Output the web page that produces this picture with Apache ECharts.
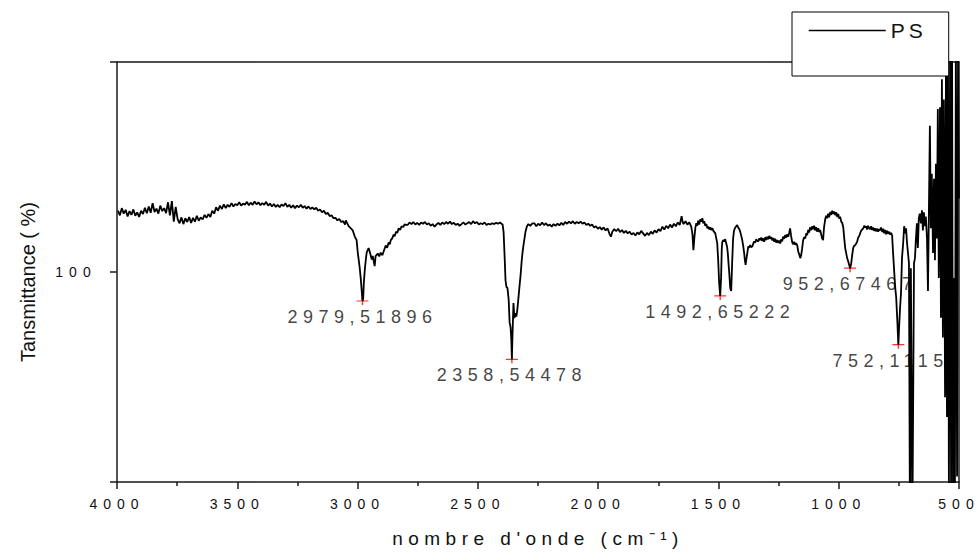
<!DOCTYPE html>
<html>
<head>
<meta charset="utf-8">
<script src="https://cdn.jsdelivr.net/npm/echarts@6/dist/echarts.min.js"></script>
<style>
  html, body { margin: 0; padding: 0; background: #fff; }
  #chart { width: 979px; height: 553px; }
</style>
</head>
<body>
<div id="chart"></div>
<script>
// FTIR spectrum of polystyrene (PS): [wavenumber cm-1, transmittance %]
const highWaveBaseline = [
  [3996,114.6],[3988,113.5],[3980,115.2],[3972,113.9],[3964,114.8],[3956,113.2],[3948,114.5],[3940,113.6],
  [3932,114.9],[3924,113.4],[3916,114.2],[3908,113.1],[3900,114.6],[3892,113.8],[3884,115.3],[3876,114.0],
  [3868,115.6],[3860,114.1],[3852,116.4],[3844,114.3],[3836,115.1],[3828,113.9],[3820,115.8],[3812,114.5],
  [3804,115.2],[3796,114.0],[3788,116.6],[3780,113.5],[3772,116.9],[3764,112.0],[3756,115.5],[3748,112.6],
  [3740,111.6],[3732,113.0],[3724,111.4],[3716,112.8],[3708,111.9],[3700,113.1],[3692,111.7],[3684,112.9],
  [3676,112.0],[3668,113.4],[3660,112.2],[3652,113.0],[3644,112.5],[3636,113.6],[3628,112.9],[3620,113.8],
  [3612,113.1],[3604,114.6],[3596,113.9],[3588,115.4],[3580,114.6],[3572,115.8],[3564,115.0],[3556,116.1],
  [3548,115.2],[3540,116.0],[3532,115.5],[3524,116.4],[3516,115.6],[3508,116.2],[3500,115.9],[3492,116.6],
  [3484,115.8],[3476,116.3],[3468,116.0],[3460,116.7],[3452,115.9],[3444,116.5],[3436,116.0],[3428,116.8],
  [3420,116.1],[3412,116.6],[3404,115.9],[3396,116.4],[3388,116.0],[3380,116.7],[3372,115.8],[3364,116.3],
  [3356,115.6],[3348,116.2],[3340,115.5],[3332,116.0],[3324,115.4],[3316,116.1],[3308,115.7],[3300,116.4],
  [3292,115.5],[3284,116.0],[3276,115.3],[3268,115.9],[3260,115.2],[3252,115.8],[3244,115.4],[3236,116.0],
  [3228,115.3],[3220,115.7],[3212,115.1],[3204,115.6],[3196,115.0],[3188,115.4],[3180,114.9],[3172,115.3],
  [3164,114.6],[3156,114.9],[3148,114.2],[3140,114.6],[3132,113.8],[3124,114.1],[3116,113.3],[3108,113.5],
  [3100,112.8],[3092,112.9],[3084,112.3],[3076,112.6],[3068,111.9],[3060,112.1],[3052,111.3]
];

const chStretchBand = [
  [3049,112.3],[3037,110.9],[3028,110.4],[3020,109.9],[3012,108.5],[3004,107.6],[2999,104.5],[2995,102.8],
  [2991,100.9],[2987,98.6],[2983,95.7],[2979.51896,93.1],[2976.5,93.8],[2974,97.4],[2970,100.5],[2966,102.8],
  [2962,104.7],[2958,105.2],[2954,105.7],[2948,104.5],[2941,103.0],[2937,103.8],[2929,101.4],[2925,103.8],
  [2916,104.4],[2910,103.7],[2904,104.6],[2897,104.0],[2891,105.0],[2883,106.3],[2877,105.8],[2871,107.0],
  [2866,106.6],[2862,107.6],[2856,108.0],[2850,108.9],[2846,108.5],[2840,109.6],[2835,109.3],[2829,110.4],
  [2823,110.0],[2817,110.9],[2810,110.7],[2804,111.4],[2800,111.2]
];

const plateauBaseline = [
  [2792,111.2],[2784,111.8],[2776,111.4],[2768,111.9],[2760,111.3],[2752,111.7],[2744,111.2],[2736,111.8],
  [2728,111.5],[2720,111.9],[2712,111.3],[2704,111.6],[2696,111.0],[2688,111.4],[2680,110.8],[2672,111.3],
  [2664,111.7],[2656,111.2],[2648,111.8],[2640,111.4],[2632,111.9],[2624,111.5],[2616,112.0],[2608,111.4],
  [2600,111.7],[2592,111.2],[2584,111.5],[2576,111.0],[2568,111.4],[2560,111.8],[2552,111.3],[2544,111.6],
  [2536,111.9],[2528,111.4],[2520,112.1],[2512,111.6],[2504,111.9],[2496,111.3],[2488,111.6],[2480,111.4],
  [2472,111.8],[2464,111.2],[2456,111.5],[2448,111.3],[2440,111.6],[2432,111.4],[2424,111.7],[2416,111.5],
  [2408,111.8],[2400,111.4]
];

const co2Band = [
  [2397,111.3],[2393,109.5],[2389,104.0],[2385,98.0],[2381,96.4],[2377,96.2],[2372,93.5],[2368,88.0],
  [2364,86.8],[2361,84.0],[2358.54478,79.2],[2356,85.0],[2352,92.6],[2348,89.0],[2344,90.2],[2340,89.4],
  [2336,91.0],[2331,94.0],[2327,96.5],[2322,99.5],[2318,102.5],[2314,104.8],[2310,106.5],[2306,108.0],
  [2302,109.6],[2296,110.9],[2290,111.4],[2282,111.0],[2273,111.6]
];

const midBaseline = [
  [2265,111.6],[2257,110.9],[2249,111.5],[2241,111.1],[2233,111.8],[2225,111.2],[2217,111.6],[2209,111.0],
  [2201,111.3],[2193,110.8],[2185,111.4],[2177,111.0],[2169,111.5],[2161,111.1],[2153,111.7],[2145,111.2],
  [2137,111.9],[2129,111.5],[2121,112.0],[2113,111.6],[2105,112.1],[2097,111.5],[2089,111.9],[2081,111.6],
  [2073,112.0],[2065,111.5],[2057,111.8],[2049,111.2],[2041,111.5],[2033,111.0],[2025,111.3],[2017,110.6],
  [2009,110.9],[2001,110.3],[1993,110.7],[1985,110.1],[1977,110.6],[1969,109.9],[1961,110.4],[1953,109.1],
  [1947,108.4],[1941,109.6],[1933,110.2],[1925,109.7],[1917,110.3],[1909,109.5],[1901,110.0],[1893,109.3],
  [1885,109.8],[1877,109.2],[1869,109.6],[1861,108.9],[1853,109.3],[1845,108.7],[1837,109.4],[1829,109.0],
  [1821,109.8],[1813,109.2],[1805,108.6],[1797,109.3],[1789,108.8],[1781,109.6],[1773,109.1],[1765,109.9],
  [1757,109.4],[1749,110.2],[1741,109.7],[1733,110.8],[1725,110.1],[1717,111.0],[1709,110.4],[1701,111.3],
  [1693,110.6],[1685,111.5],[1677,110.9],[1669,111.8],[1661,111.2],[1653,113.3],[1649,112.0],[1645,111.4],
  [1637,112.1],[1629,111.3],[1621,111.8]
];

const aromaticBand = [
  [1613,110.8],[1608,109.0],[1604,105.2],[1600,108.2],[1596,110.5],[1592,111.6],[1588,111.0],[1584,112.2],
  [1580,111.3],[1575,112.6],[1571,112.0],[1567,112.8],[1563,111.6],[1559,112.1],[1555,111.0],[1550,111.4],
  [1546,110.4],[1542,110.8],[1538,110.1],[1534,110.6],[1529,110.0],[1525,110.4],[1521,109.8],[1517,109.5],
  [1513,109.2],[1509,108.0],[1505,106.9],[1501,102.8],[1497,97.4],[1492.65222,94.3],[1489,98.6],[1486,105.7],
  [1484,107.1],[1480,107.6],[1476,107.3],[1472,107.8],[1468,106.9],[1464,106.0],[1461,104.5],[1458,102.0],
  [1455,99.8],[1451,96.2],[1447,95.5],[1443,102.1],[1439,108.0],[1435,109.9],[1430,110.6],[1426,110.9],
  [1422,111.2],[1418,110.6],[1413,110.2],[1409,109.5],[1405,108.6],[1401,107.6],[1397,106.2],[1393,104.5],
  [1390,102.8],[1387,101.7],[1384,103.0],[1380,104.5],[1376,106.1],[1372,105.8],[1368,106.4],[1364,105.9],
  [1359,106.1],[1355,106.8],[1351,107.3],[1347,107.0],[1343,107.8],[1338,107.4],[1334,107.3],[1330,108.0],
  [1326,107.6]
];

const fingerprintBand = [
  [1322,108.2],[1318,107.4],[1314,108.0],[1310,107.2],[1305,108.3],[1301,107.6],[1297,108.4],[1293,107.8],
  [1289,108.6],[1285,107.9],[1280,108.3],[1276,107.5],[1272,108.1],[1268,107.2],[1264,107.9],[1260,107.0],
  [1256,107.6],[1251,106.9],[1247,107.5],[1243,106.8],[1239,107.8],[1235,107.3],[1231,108.4],[1227,107.9],
  [1222,108.8],[1218,108.2],[1214,109.0],[1210,108.4],[1206,109.3],[1202,110.4],[1198,108.6],[1193,107.0],
  [1189,106.6],[1185,107.2],[1181,106.5],[1177,106.9],[1172,106.2],[1168,104.8],[1164,104.2],[1160,103.3],
  [1156,104.0],[1152,105.6],[1148,107.5],[1144,108.3],[1139,108.0],[1135,109.2],[1131,108.8],[1127,110.0],
  [1123,109.4],[1119,110.6],[1114,110.0],[1110,110.9],[1106,110.2],[1102,111.0],[1098,109.9],[1094,110.7],
  [1090,109.6],[1085,110.4],[1081,109.5],[1077,110.0],[1073,109.0],[1069,108.0],[1065,107.6],[1061,110.6],
  [1056,112.6],[1052,113.4],[1048,112.8],[1044,113.9],[1040,113.0],[1035,114.3],[1031,113.6],[1027,114.6],
  [1023,113.8],[1019,114.4],[1014,113.5],[1010,114.2],[1006,113.1],[1002,113.8],[998,112.7],[994,113.2],
  [990,112.1],[985,111.6],[981,110.6],[977,108.0],[973,105.7],[969,104.5],[965,103.3],[961,102.6],
  [957,101.8],[952.67467,100.9],[948,102.1],[944,104.0],[940,105.7],[936,106.2],[932,106.4],[927,106.8],
  [923,107.3],[919,108.2],[915,108.5],[911,109.2],[907,109.8],[903,110.1],[898,110.4],[894,111.0],
  [890,110.6],[886,110.9],[882,110.1],[878,111.0],[873,110.4],[869,110.2],[865,110.9],[861,110.0],
  [857,110.6],[853,109.8],[849,110.4],[845,109.7],[840,110.3],[836,109.6],[832,110.2],[828,109.9]
];

const lowWaveEdge = [
  [824,110.6],[819,109.5],[815,110.3],[811,109.2],[807,110.0],[803,109.0],[799,109.8],[795,109.1],
  [790,109.6],[786,108.9],[782,109.3],[778,108.7],[774,104.5],[769,99.8],[765,96.2],[761,93.9],
  [757,89.1],[752.11158,82.7],[749,86.8],[745,91.5],[741,95.0],[737,103.3],[732,106.9],[728,110.9],
  [724,109.2],[720,110.4],[716,106.9],[712,104.5],[708,102.1],[704,40.0],[700,100.9],[694,38.0],
  [687,102.1],[683,103.3],[679,108.0],[675,111.6],[671,105.7],[667,112.8],[663,113.9],[658,111.6],
  [654,114.7],[650,109.9],[646,114.2],[642,110.9],[638,113.2],[633,108.0],[629,95.5],[625,115.1],
  [621,134.8],[617,110.4],[613,123.4],[608,104.5],[604,122.2],[600,102.8],[596,125.8],[592,108.0],
  [588,138.8],[584,98.6],[579,139.2],[575,89.1],[571,145.9],[567,84.4],[563,141.1],[558,70.2],
  [554,155.0],[550,65.5],[546,157.7],[542,46.6],[537,155.0],[533,49.0],[529,160.0],[525,47.8],
  [521,98.6],[517,46.6],[513,157.7],[508,51.3],[504,150.6],[500,117.5]
];

// Labelled absorption maxima (wavenumber, cm-1)
const peakWavenumbers = [2979.51896, 2358.54478, 1492.65222, 952.67467, 752.11158];

// Axis settings
const xTicks = { min: 500, max: 4000, step: 500 };
const yTicks = { min: 50, max: 150, step: 50, labelled: [100] };
const seriesName = 'PS';
const xTitle = "nombre d'onde (cm\u207B\u00B9)";
const yTitle = 'Tansmittance ( %)';

const spectrum = [].concat(highWaveBaseline, chStretchBand, plateauBaseline, co2Band,
  midBaseline, aromaticBand, fingerprintBand, lowWaveEdge);
const peakPoints = peakWavenumbers.map(w => spectrum.find(p => p[0] === w));

const FONT = '"Liberation Sans", Arial, sans-serif';
const INK = '#111';
const axisLineStyle = { color: '#1a1a1a', width: 1.5 };
const hidden = 'rgba(0,0,0,0)';

const chart = echarts.init(document.getElementById('chart'), null, { renderer: 'svg', width: 979, height: 553 });

const option = {
  animation: false,
  backgroundColor: '#ffffff',
  grid: { left: 117, right: 20, top: 62, bottom: 68, containLabel: false },
  legend: {
    left: 792, top: 12,
    backgroundColor: '#ffffff',
    borderColor: '#000000', borderWidth: 1, borderRadius: 0,
    padding: [8, 30, 35, 16],
    itemWidth: 77, itemHeight: 14, itemGap: 0,
    itemStyle: { color: hidden, borderColor: hidden, borderWidth: 0 },
    lineStyle: { color: '#000', width: 1.4 },
    textStyle: { fontFamily: FONT, fontSize: 21, color: INK },
    data: [seriesName],
    z: 10
  },
  xAxis: [{
    type: 'value', position: 'bottom', inverse: true,
    min: xTicks.min, max: xTicks.max, interval: xTicks.step,
    axisLine: { show: true, onZero: false, lineStyle: axisLineStyle },
    axisTick: { show: true, inside: false, length: 7, lineStyle: axisLineStyle },
    minorTick: { show: true, splitNumber: 2, length: 4, lineStyle: axisLineStyle },
    splitLine: { show: false },
    axisLabel: { margin: 15, fontFamily: FONT, fontSize: 14, color: INK, formatter: v => String(v) },
    name: xTitle, nameLocation: 'middle', nameGap: 47,
    nameTextStyle: { fontFamily: FONT, fontSize: 19, color: INK }
  }, {
    type: 'value', position: 'top', inverse: true,
    min: xTicks.min, max: xTicks.max,
    axisLine: { show: true, onZero: false, lineStyle: axisLineStyle },
    axisTick: { show: false }, axisLabel: { show: false }, splitLine: { show: false }
  }],
  yAxis: [{
    type: 'value', position: 'left',
    min: yTicks.min, max: yTicks.max, interval: yTicks.step,
    axisLine: { show: true, onZero: false, lineStyle: axisLineStyle },
    axisTick: { show: true, inside: false, length: 7, lineStyle: axisLineStyle },
    splitLine: { show: false },
    axisLabel: {
      margin: 41, align: 'center', fontFamily: FONT, fontSize: 14, color: INK,
      formatter: v => (yTicks.labelled.indexOf(v) >= 0 ? String(v) : '')
    },
    name: yTitle, nameLocation: 'middle', nameGap: 79, nameRotate: 90,
    nameTextStyle: { fontFamily: FONT, fontSize: 20, color: INK, padding: [0, 20, 0, 0] }
  }, {
    type: 'value', position: 'right',
    min: yTicks.min, max: yTicks.max,
    axisLine: { show: true, onZero: false, lineStyle: axisLineStyle },
    axisTick: { show: false }, axisLabel: { show: false }, splitLine: { show: false }
  }],
  series: [{
    name: seriesName, type: 'line',
    xAxisIndex: 0, yAxisIndex: 0,
    data: spectrum,
    symbol: 'none', clip: true, silent: true,
    lineStyle: { color: '#000', width: 1.8 },
    itemStyle: { color: '#000' },
    z: 3
  }, {
    name: 'peaks', type: 'scatter',
    xAxisIndex: 0, yAxisIndex: 0,
    data: peakPoints,
    symbol: 'path://M0,3.4H12V4.6H0Z M5.3,0H6.7V8H5.3Z',
    symbolSize: [12, 8], silent: true,
    itemStyle: { color: '#ff0000' },
    label: {
      show: true, position: 'bottom', distance: 3,
      fontFamily: FONT, fontSize: 18, color: INK,
      formatter: p => String(p.value[0]).replace('.', ',')
    },
    z: 2
  }]
};

chart.setOption(option);

// Wide Origin-style lettering for horizontal texts
function spaceLetters() {
  document.querySelectorAll('#chart svg text').forEach(t => {
    const s = t.textContent || '';
    let sp = '5.5px';
    if (s.indexOf('Tans') === 0) sp = '0px';
    else if (/^\d+$/.test(s)) sp = '6px';
    else if (s === seriesName) sp = '4px';
    t.style.letterSpacing = sp;
  });
}
spaceLetters();
chart.on('finished', spaceLetters);
</script>
</body>
</html>
